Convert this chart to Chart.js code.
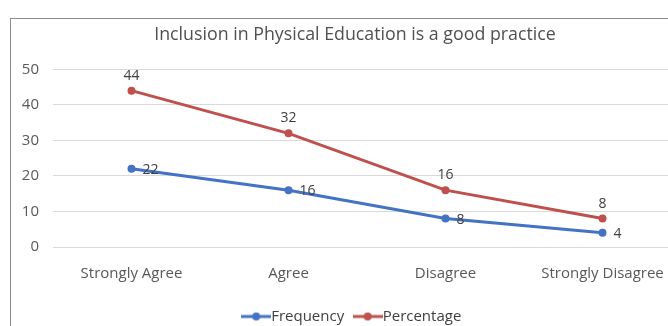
<!DOCTYPE html>
<html><head><meta charset="utf-8">
<script src="https://cdn.jsdelivr.net/npm/chart.js@4"></script>
<style>
html,body{margin:0;padding:0;background:#fff;overflow:hidden;width:668px;height:326px;}
#box{position:absolute;left:10px;top:18px;width:690px;height:320px;border:1px solid #8c8c8c;box-sizing:border-box;background:#fff;}
#wrap{position:absolute;left:0;top:0;width:688px;height:318px;}
</style></head><body>
<div id="box"><div id="wrap"><canvas id="c"></canvas></div></div>
<script>
const categories = ["Strongly Agree", "Agree", "Disagree", "Strongly Disagree"];
const frequency = [22, 16, 8, 4];
const percentage = [44, 32, 16, 8];
const yTicks = [0, 10, 20, 30, 40, 50];
const FONT = "'Open Sans',sans-serif";
const BLUE = "#4472C4", RED = "#C0504D";

function legendIcon(color){
  const c = document.createElement('canvas');
  c.width = 30; c.height = 10;
  const g = c.getContext('2d');
  g.strokeStyle = color; g.lineWidth = 3;
  g.beginPath(); g.moveTo(0,5); g.lineTo(30,5); g.stroke();
  g.fillStyle = color; g.beginPath(); g.arc(15,5,4,0,Math.PI*2); g.fill();
  return c;
}

const labelPlugin = {
  id:'vals',
  afterDatasetsDraw(chart){
    const ctx = chart.ctx;
    ctx.save();
    ctx.font = "14px " + FONT;
    ctx.fillStyle = "#404040";
    chart.data.datasets.forEach((ds, di) => {
      const meta = chart.getDatasetMeta(di);
      meta.data.forEach((pt, i) => {
        const v = ds.data[i];
        if (di === 1) {
          ctx.textAlign = 'center'; ctx.textBaseline = 'bottom';
          ctx.fillText(String(v), pt.x, pt.y - 8);
        } else {
          ctx.textAlign = 'left'; ctx.textBaseline = 'middle';
          ctx.fillText(String(v), pt.x + 11, pt.y + 1);
        }
      });
    });
    ctx.restore();
  }
};

new Chart(document.getElementById('c'), {
  type:'line',
  data:{
    labels: categories,
    datasets:[
      {label:'Frequency', data: frequency, borderColor: BLUE, backgroundColor: BLUE, borderWidth:3, pointRadius:4, pointBackgroundColor: BLUE, pointBorderWidth:0, tension:0},
      {label:'Percentage', data: percentage, borderColor: RED, backgroundColor: RED, borderWidth:3, pointRadius:4, pointBackgroundColor: RED, pointBorderWidth:0, tension:0}
    ]
  },
  options:{
    responsive:true, maintainAspectRatio:false, animation:false,
    layout:{padding:{left:0,right:0,top:0,bottom:3}},
    plugins:{
      title:{display:true, text:'Inclusion in Physical Education is a good practice', color:'#505050', font:{family:FONT, size:17.8, weight:'normal'}, padding:{top:5,bottom:24}},
      legend:{position:'bottom', labels:{color:'#404040', font:{family:FONT, size:15}, usePointStyle:true, boxWidth:30, boxHeight:10, padding:16,
        generateLabels(chart){
          return chart.data.datasets.map((ds,i)=>({text:ds.label, pointStyle: legendIcon(ds.borderColor), fillStyle:ds.borderColor, strokeStyle:ds.borderColor, lineWidth:0, datasetIndex:i, fontColor:'#404040'}));
        }}},
      tooltip:{enabled:false}
    },
    scales:{
      x:{offset:true, grid:{display:false}, border:{display:false}, ticks:{color:'#595959', font:{family:FONT, size:15}, padding:10, maxRotation:0, autoSkip:false}},
      y:{min:0, max:50, afterBuildTicks(ax){ ax.ticks = yTicks.map(v=>({value:v})); }, afterFit(ax){ ax.width = 42; }, grid:{color:'#d9d9d9', drawTicks:false}, border:{display:false}, ticks:{color:'#595959', font:{family:FONT, size:15}, padding:14}},
      yR:{position:'right', display:true, min:0, max:50, afterFit(ax){ ax.width = 18; }, grid:{display:false, drawTicks:false}, border:{display:false}, ticks:{display:false}}
    }
  },
  plugins:[labelPlugin]
});
</script>
</body></html>
